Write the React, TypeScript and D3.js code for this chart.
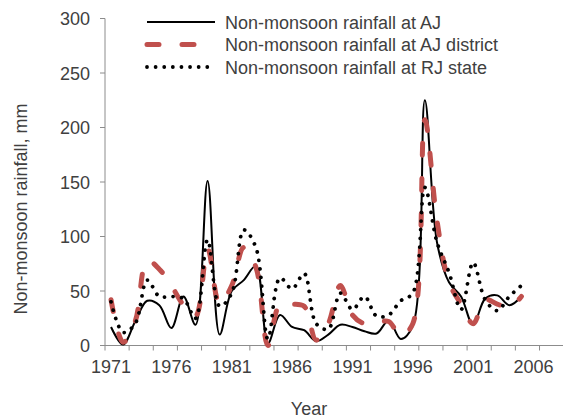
import React from 'react'
import * as d3 from 'd3'

const WIDTH = 563
const HEIGHT = 419
const LEFT = 105
const TOP = 18.5
const BOTTOM = 345.5
const YEAR_W = 12.07
const FONT = 'Liberation Sans, Arial, sans-serif'
const TEXT = '#404040'
const AXIS = '#8c8c8c'

const years = [
  1971, 1972, 1973, 1974, 1975, 1976, 1977, 1978, 1979, 1980,
  1981, 1982, 1983, 1984, 1985, 1986, 1987, 1988, 1989, 1990,
  1991, 1992, 1993, 1994, 1995, 1996, 1997, 1998, 1999, 2000,
  2001, 2002, 2003, 2004, 2005,
]
const ajRain = [
  17, 1, 22, 41, 37, 16, 45, 19, 151, 10,
  50, 60, 73, 2, 28, 17, 14, 4, 10, 19,
  17, 13, 11, 23, 6, 18, 225, 95, 58, 45,
  19, 43, 46, 37, 45,
]
const districtRain = [
  42, 3, 22, 78, 70, 55, 37, 27, 89, 38,
  55, 90, 72, 0, 38, 38, 36, 5, 20, 55,
  28, 20, 21, 22, 9, 20, 207, 115, 58, 38,
  20, 42, 38, 35, 45,
]
const stateRain = [
  40, 12, 20, 60, 45, 45, 43, 25, 97, 36,
  48, 106, 90, 6, 62, 52, 66, 20, 15, 48,
  33, 45, 27, 28, 41, 48, 145, 95, 67, 33,
  76, 42, 32, 45, 55,
]
const yTicks = [0, 50, 100, 150, 200, 250, 300]
const xLabels = [1971, 1976, 1981, 1986, 1991, 1996, 2001, 2006]
const seriesNames = [
  'Non-monsoon rainfall at AJ',
  'Non-monsoon rainfall at AJ district',
  'Non-monsoon rainfall at RJ state',
]

const series = [
  { name: seriesNames[0], values: ajRain, stroke: '#000', width: 2, dash: undefined, cap: 'butt' },
  { name: seriesNames[1], values: districtRain, stroke: '#c0504d', width: 5, dash: '12 23', cap: 'round' },
  { name: seriesNames[2], values: stateRain, stroke: '#000', width: 3.8, dash: '0.01 8.6', cap: 'round' },
]

export default function App() {
  const x = d3.scaleLinear()
    .domain([1970.5, 2008.5])
    .range([LEFT, LEFT + 38 * YEAR_W])
  const y = d3.scaleLinear().domain([0, 300]).range([BOTTOM, TOP])

  const line = d3.line<[number, number]>()
    .x(d => x(d[0]))
    .y(d => y(d[1]))
    .curve(d3.curveCatmullRom.alpha(0.5))

  const xTickMarks = d3.range(1970.5, 2009, 2)
  const legendY = [22, 44.5, 67]

  return (
    <svg width={WIDTH} height={HEIGHT} style={{ position: 'absolute', left: 0, top: 0, background: '#fff' }}
      fontFamily={FONT}>
      {/* y axis */}
      <line x1={LEFT} x2={LEFT} y1={TOP} y2={BOTTOM} stroke={AXIS} />
      {yTicks.map(t => (
        <g key={t}>
          <line x1={LEFT - 5} x2={LEFT} y1={y(t)} y2={y(t)} stroke={AXIS} />
          <text x={90} y={y(t) + 6.5} textAnchor="end" fontSize={18} fill={TEXT}>{t}</text>
        </g>
      ))}
      {/* x axis */}
      <line x1={LEFT} x2={WIDTH} y1={BOTTOM} y2={BOTTOM} stroke={AXIS} />
      {xTickMarks.map(t => (
        <line key={t} x1={x(t)} x2={x(t)} y1={BOTTOM} y2={BOTTOM + 5} stroke={AXIS} />
      ))}
      {xLabels.map(t => (
        <text key={t} x={x(t)} y={373} textAnchor="middle" fontSize={18} fill={TEXT}>{t}</text>
      ))}
      <text x={309} y={415} textAnchor="middle" fontSize={18} fill={TEXT}>Year</text>
      <text transform="translate(27,209) rotate(-90)" textAnchor="middle" fontSize={18} fill={TEXT}>
        Non-monsoon rainfall,  mm
      </text>

      {series.map(s => (
        <path key={s.name}
          d={line(years.map((yr, i) => [yr, s.values[i]] as [number, number])) || ''}
          fill="none" stroke={s.stroke} strokeWidth={s.width}
          strokeDasharray={s.dash} strokeLinecap={s.cap as any} strokeLinejoin="round" />
      ))}

      {series.map((s, i) => (
        <g key={'lg' + i}>
          <line x1={147} x2={215} y1={legendY[i]} y2={legendY[i]} stroke={s.stroke}
            strokeWidth={s.width} strokeDasharray={s.dash} strokeLinecap={s.cap as any} />
          <text x={225} y={legendY[i] + 6.5} fontSize={18} fill={TEXT}>{s.name}</text>
        </g>
      ))}
    </svg>
  )
}
